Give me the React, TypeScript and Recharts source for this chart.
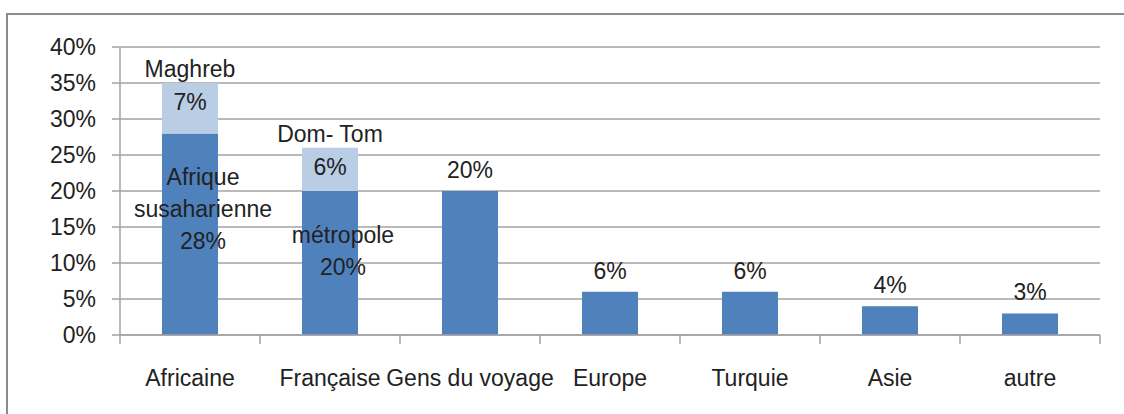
import React from "react";
import { BarChart, Bar, XAxis, YAxis, CartesianGrid, LabelList } from "recharts";

const categories = ["Africaine", "Française", "Gens du voyage", "Europe", "Turquie", "Asie", "autre"];
const baseValues = [28, 20, 20, 6, 6, 4, 3];
const topValues: (number | null)[] = [7, 6, null, null, null, null, null];
const baseGroups: (string | null)[] = ["Afrique susaharienne", "métropole", null, null, null, null, null];
const topGroups: (string | null)[] = ["Maghreb", "Dom- Tom", null, null, null, null, null];
const yTicks = [0, 5, 10, 15, 20, 25, 30, 35, 40];

const data = categories.map((name, i) => ({ name, base: baseValues[i], top: topValues[i] }));

const W = 1124;
const H = 414;
const PLOT_LEFT = 120;
const PLOT_RIGHT = 24;
const BAND = (W - PLOT_LEFT - PLOT_RIGHT) / categories.length;
const FONT = "'Liberation Sans', Arial, sans-serif";
const FS = 23;
const TEXT = "#222";
const LINE = "#a3a3a3";
const DARK = "#4F81BD";
const LIGHT = "#B9CDE5";

const pct = (v: number) => `${v}%`;

function CategoryTick(props: any) {
  const { x, y, payload } = props;
  const half = BAND / 2;
  const last = payload.value === categories[categories.length - 1];
  return (
    <g>
      <line x1={x - half} x2={x - half} y1={y} y2={y + 9} stroke={LINE} strokeWidth={1.5} />
      {last && <line x1={x + half} x2={x + half} y1={y} y2={y + 9} stroke={LINE} strokeWidth={1.5} />}
      <text x={x} y={y + 51} textAnchor="middle" fill={TEXT} fontSize={FS} fontFamily={FONT}>
        {payload.value}
      </text>
    </g>
  );
}

function BaseLabel(props: any) {
  const { x, y, width, index } = props;
  const cx = x + width / 2;
  const group = baseGroups[index];
  const value = baseValues[index];
  if (!group) {
    return (
      <text x={cx} y={y - 13} textAnchor="middle" fill={TEXT} fontSize={FS} fontFamily={FONT}>
        {pct(value)}
      </text>
    );
  }
  const lines = [...group.split(" "), pct(value)];
  return (
    <g>
      {lines.map((t, k) => (
        <text key={k} x={cx + 13} y={y + 52 + k * 32} textAnchor="middle" fill={TEXT} fontSize={FS} fontFamily={FONT}>
          {t}
        </text>
      ))}
    </g>
  );
}

function TopLabel(props: any) {
  const { x, y, width, index } = props;
  const group = topGroups[index];
  const value = topValues[index];
  if (!group || value == null) return null;
  const cx = x + width / 2;
  return (
    <g>
      <text x={cx} y={y - 6} textAnchor="middle" fill={TEXT} fontSize={FS} fontFamily={FONT}>
        {group}
      </text>
      <text x={cx} y={y + 27} textAnchor="middle" fill={TEXT} fontSize={FS} fontFamily={FONT}>
        {pct(value)}
      </text>
    </g>
  );
}

export default function App() {
  return (
    <div style={{ position: "absolute", left: 0, top: 0, width: W, height: H, overflow: "hidden", background: "#fff", fontFamily: FONT }}>
      {/* outer chart frame */}
      <div style={{ position: "absolute", left: 6, top: 13, width: W + 20, height: H + 40, border: "2px solid #8c8c8c" }} />
      <div style={{ position: "absolute", left: 0, top: 0 }}>
        <BarChart
          width={W}
          height={H}
          data={data}
          margin={{ top: 47, right: PLOT_RIGHT, left: 0, bottom: 0 }}
          barCategoryGap="30%"
        >
          <CartesianGrid horizontal vertical={false} stroke={LINE} strokeWidth={1.5} />
          <XAxis
            dataKey="name"
            height={79}
            axisLine={{ stroke: LINE, strokeWidth: 1.5 }}
            tickLine={false}
            tickSize={0}
            tickMargin={0}
            interval={0}
            tick={<CategoryTick />}
          />
          <YAxis
            width={PLOT_LEFT}
            domain={[0, 40]}
            ticks={yTicks}
            tickFormatter={pct}
            axisLine={{ stroke: LINE, strokeWidth: 1.5 }}
            tickLine={{ stroke: LINE, strokeWidth: 1.5 }}
            tickSize={8}
            tickMargin={16}
            tick={{ fill: TEXT, fontSize: FS, fontFamily: FONT }}
          />
          <Bar dataKey="base" stackId="a" fill={DARK} isAnimationActive={false}>
            <LabelList dataKey="base" content={<BaseLabel />} />
          </Bar>
          <Bar dataKey="top" stackId="a" fill={LIGHT} isAnimationActive={false}>
            <LabelList dataKey="top" content={<TopLabel />} />
          </Bar>
        </BarChart>
      </div>
    </div>
  );
}
